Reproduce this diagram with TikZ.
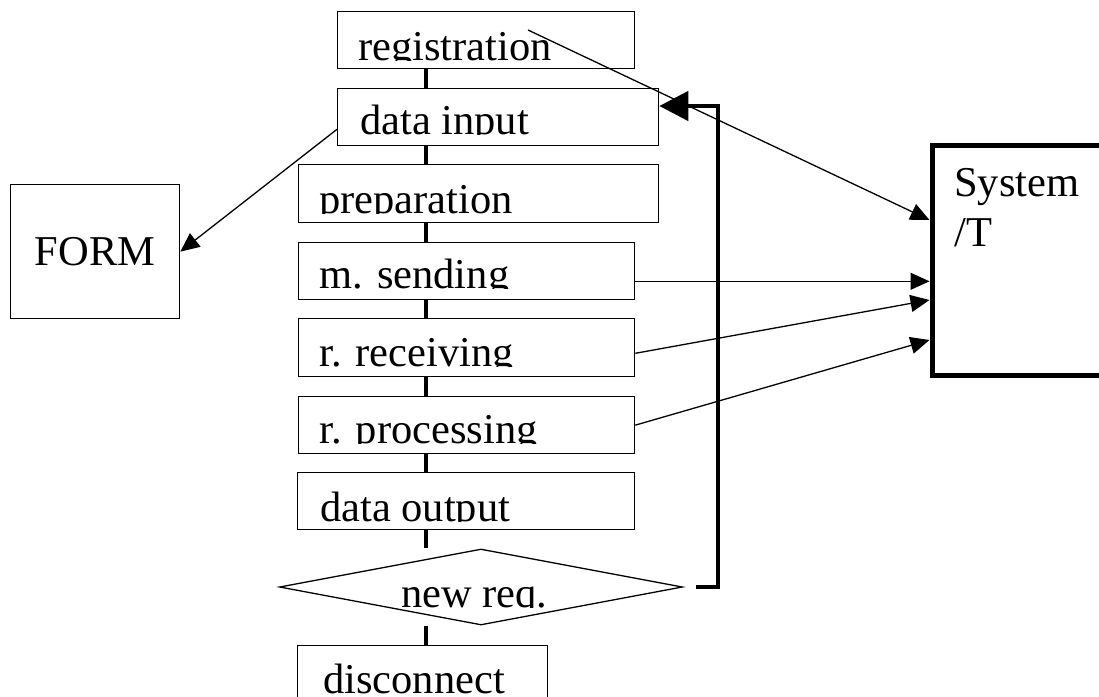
\documentclass[tikz,border=0pt]{standalone}
\usepackage{fontspec}
\setmainfont{Liberation Serif}
\usetikzlibrary{arrows.meta,positioning,shapes.geometric,calc}

% text cut off at its baseline, as in the boxes
\newcommand{\cliplabel}[4]{%
  \begin{scope}
    \clip (#1.west |- #1.north) rectangle ($(#1.east |- #1.south)+(0,-#4)$);
    \node[lbl, anchor=base west] at ($(#1.west |- #1.south)+(#3,-#4)$) {#2};
  \end{scope}}

\begin{document}
\begin{tikzpicture}[x=1pt,y=-1pt,
  box/.style={draw, line width=1.3pt, anchor=north west, inner sep=0pt},
  decision/.style={diamond, draw, line width=1.3pt, aspect=5.3, inner sep=0pt,
    minimum width=403pt, minimum height=76pt},
  lbl/.style={font=\fontsize{42.5}{50}\selectfont, inner sep=0pt},
  link/.style={line width=4.5pt},
  flow/.style={line width=1.3pt, -{Triangle[length=19pt,width=17pt]}},
  back/.style={line width=4.5pt, -{Triangle[length=29pt,width=29pt]}}]
  \useasboundingbox (0,0) rectangle (1099,696);
  \clip (0,0) rectangle (1099,696);

  % Steps
  \node[box, minimum width=297pt, minimum height=57pt] (reg) at (337,11) {};
  \node[box, minimum width=321pt, minimum height=57pt] (din) at (337,88) {};
  \node[box, minimum width=360pt, minimum height=58pt] (prep) at (298,164) {};
  \node[box, minimum width=336pt, minimum height=57pt] (msend) at (298,242) {};
  \node[box, minimum width=336pt, minimum height=58pt] (rrecv) at (298,318) {};
  \node[box, minimum width=336pt, minimum height=57pt] (rproc) at (298,396) {};
  \node[box, minimum width=337pt, minimum height=57pt] (dout) at (297,472) {};
  \node[decision] (newreq) at (481,587) {};
  \node[box, minimum width=250pt, minimum height=57pt] (disc) at (297,645) {};

  % Side blocks
  \node[box, lbl, minimum width=169pt, minimum height=134pt] (form) at (10,184) {FORM};
  \node[box, line width=5pt, minimum width=230pt, minimum height=230pt] (sys) at (929.5,142.5) {};
  \node[lbl, align=left, anchor=north west] (systext) at ($(sys.north west)+(24.5,25.5)$) {System\\/T};

  % Labels
  \cliplabel{reg}{registration}{21}{9}
  \cliplabel{din}{data input}{23}{12}
  \cliplabel{prep}{preparation}{21}{10}
  \cliplabel{msend}{m. sending}{21}{12}
  \cliplabel{rrecv}{r. receiving}{21}{11}
  \cliplabel{rproc}{r. processing}{21}{11}
  \cliplabel{dout}{data output}{23}{9}
  \cliplabel{newreq}{new req.}{122}{18}
  \cliplabel{disc}{disconnect}{26}{10}

  % Main line
  \coordinate (spine) at (426,0);
  \foreach \a/\b in {reg/din, din/prep, prep/msend, msend/rrecv, rrecv/rproc, rproc/dout, dout/newreq, newreq/disc}
    \draw[link] (\a.south -| spine) -- (\b.north -| spine);

  % Loop back
  \draw[back] ($(newreq.east)+(13,0)$) -- ++(22,0) |- ($(din.north east)+(0,18)$);

  % Calls
  \coordinate (regtap) at ($(reg.north west)+(191,19)$);
  \coordinate (sendtap) at ($(msend.south east)+(0,-19)$);
  \draw[flow] (regtap) -- ($(sys.north west)+(0,77.5)$);
  \draw[flow] ($(din.south west)+(0,-17)$) -- (form.east);
  \draw[flow] (sendtap) -- (sendtap -| sys.west);
  \draw[flow] ($(rrecv.south east)+(0,-24)$) -- ($(sys.north west)+(0,157.5)$);
  \draw[flow] (rproc.east) -- ($(sys.north west)+(0,197.5)$);
\end{tikzpicture}
\end{document}
